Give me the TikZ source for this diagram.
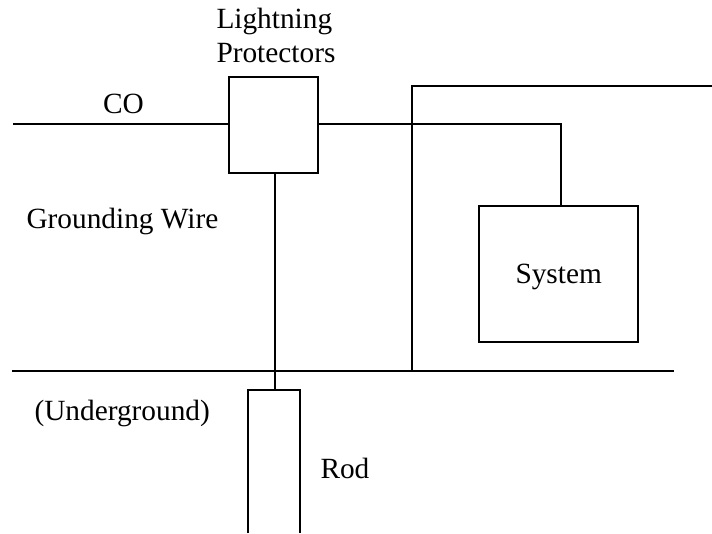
\documentclass[tikz,border=0pt]{standalone}
\usepackage{fontspec}
\setmainfont{Liberation Serif}

\begin{document}
\begin{tikzpicture}[x=0.75pt,y=-0.75pt,line width=1.5pt,
  every node/.style={font=\fontsize{22}{25}\selectfont},
  label/.style={anchor=base west,inner sep=0pt},
  box/.style={draw,inner sep=0pt}]
\useasboundingbox (0,0) rectangle (712,533);
\node[box,minimum width=66.4pt,minimum height=72pt] (prot) at (273.75,124.5) {};
\node[box,minimum width=119.2pt,minimum height=102pt] (sys) at (558.5,273.5) {};
\node[label] (lt) at (215.5,28) {Lightning};
\node[label] (pr) at (215.5,62) {Protectors};
\node[label] (co) at (102,113) {CO};
\node[label] (gw) at (25.5,228) {Grounding Wire};
\node[label] (ug) at (33.5,420) {(Underground)};
\node[label] (rd) at (319.5,478) {Rod};
\node[label] (st) at (514.5,283) {System};
\coordinate (a) at (13,123.5);
\coordinate (b) at (561,123.5);
\coordinate (c) at (12,371);
\coordinate (d) at (674,371);
\coordinate (e) at (412,371);
\coordinate (f) at (412,85.5);
\coordinate (g) at (712,85.5);
\coordinate (h) at (275,390);
\coordinate (i) at (247.5,390);
\coordinate (j) at (300,390);
\coordinate (k) at (247.5,533);
\coordinate (l) at (300,533);
\draw (a)--(prot.west |- a);\draw (prot.east |- b)--(b)--(sys.north -| b);
\draw (c)--(d);\draw (e)--(f)--(g);
\draw (prot.south -| h)--(h);
\draw (k)--(i)--(j)--(l);
\end{tikzpicture}
\end{document}
